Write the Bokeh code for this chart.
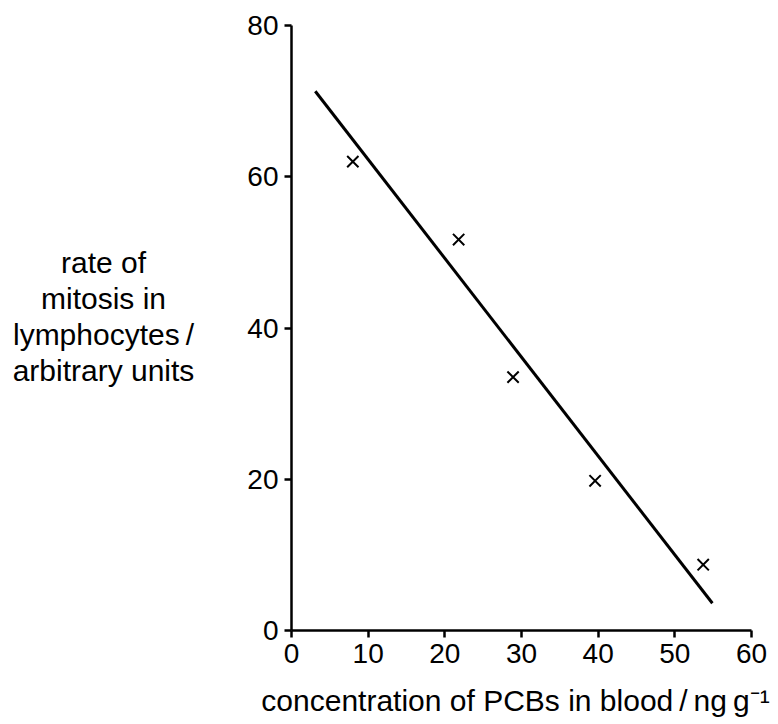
from bokeh.plotting import figure
from bokeh.models import Range1d, FixedTicker, ColumnDataSource, Label
from bokeh.embed import file_html
from bokeh.resources import INLINE

# data
pcb_conc = [8.0, 21.8, 28.9, 39.6, 53.7]          # ng g^-1
mitosis_rate = [62.0, 51.7, 33.5, 19.8, 8.7]       # arbitrary units
fit_x = [3.1, 54.9]
fit_y = [71.3, 3.6]
x_ticks = [0, 10, 20, 30, 40, 50, 60]
y_ticks = [0, 20, 40, 60, 80]
x_limits = (0, 60)
y_limits = (0, 80)
y_title_lines = ["rate of", "mitosis in", "lymphocytes\u2009/", "arbitrary units"]
x_title = "concentration of PCBs in blood\u2009/\u2009ng\u2009g\u207b\u00b9"

FONT = "Liberation Sans"
TICK_FS = "28px"
TITLE_FS = "30px"

W, H = 778, 724
# pixel geometry of the axes box inside the canvas
X0_PX, X1_PX = 291, 751     # x = 0 and x = 60
Y0_PX, Y1_PX = 630, 25      # y = 0 and y = 80
sx = (X1_PX - X0_PX) / (x_limits[1] - x_limits[0])
sy = (Y0_PX - Y1_PX) / (y_limits[1] - y_limits[0])
xr = Range1d(x_limits[0] - X0_PX / sx, x_limits[0] + (W - X0_PX) / sx)
yr = Range1d(y_limits[0] - (H - Y0_PX) / sy, y_limits[0] + Y0_PX / sy)

p = figure(width=W, height=H, x_range=xr, y_range=yr,
           output_backend="svg", toolbar_location=None,
           min_border=0, min_border_left=0, min_border_right=0,
           min_border_top=0, min_border_bottom=0)
p.grid.visible = False
p.outline_line_color = None
p.background_fill_color = "white"
p.border_fill_color = "white"

p.xaxis.fixed_location = y_limits[0]
p.yaxis.fixed_location = x_limits[0]
p.xaxis.bounds = x_limits
p.yaxis.bounds = y_limits

for ax, ticks in ((p.xaxis, x_ticks), (p.yaxis, y_ticks)):
    ax.ticker = FixedTicker(ticks=ticks)
    ax.minor_tick_line_color = None
    ax.axis_line_width = 2.5
    ax.axis_line_color = "black"
    ax.major_tick_line_width = 2.5
    ax.major_tick_line_color = "black"
    ax.major_tick_in = 0
    ax.major_tick_out = 7
    ax.major_label_text_font = FONT
    ax.major_label_text_font_size = TICK_FS
    ax.major_label_text_color = "black"
    ax.major_label_standoff = 6

src = ColumnDataSource(dict(x=pcb_conc, y=mitosis_rate))
p.line(fit_x, fit_y, line_color="black", line_width=3)
p.scatter("x", "y", source=src, marker="x", size=16, line_color="black", line_width=2)

# y-axis title (horizontal, centred lines), positioned in data units
y_title_x = (103 - X0_PX) / sx
y_title_baselines_px = [262, 298, 334, 370]
for txt, bpx in zip(y_title_lines, y_title_baselines_px):
    p.add_layout(Label(x=y_title_x, y=(Y0_PX - bpx) / sy, text=txt,
                       text_align="center", text_baseline="alphabetic",
                       text_font=FONT, text_font_size=TITLE_FS, text_color="black"))

p.add_layout(Label(x=(515 - X0_PX) / sx, y=(Y0_PX - 700) / sy, text=x_title,
                   text_align="center", text_baseline="alphabetic",
                   text_font=FONT, text_font_size=TITLE_FS, text_color="black"))

open("out.html", "w").write(file_html(p, INLINE))
